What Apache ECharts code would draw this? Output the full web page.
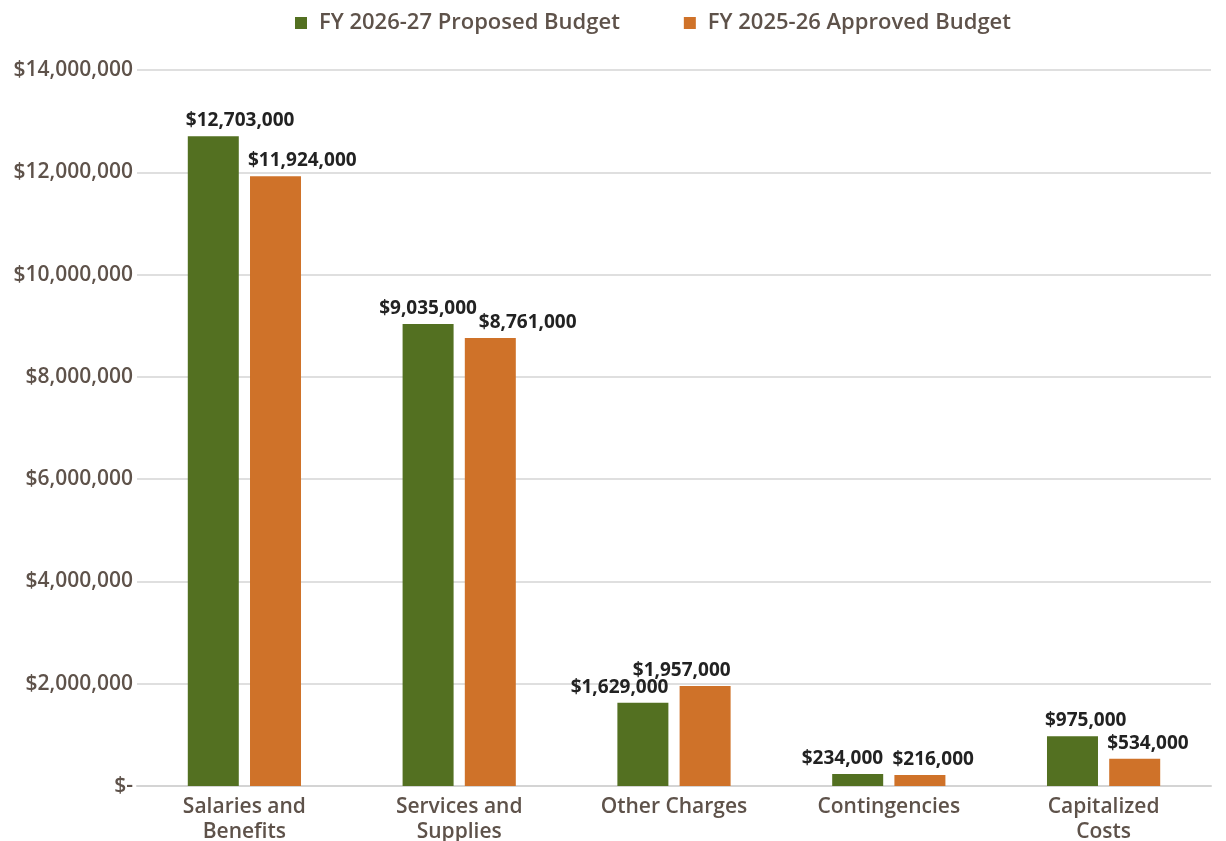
<!DOCTYPE html>
<html>
<head>
<meta charset="utf-8">
<script src="https://cdn.jsdelivr.net/npm/echarts@6/dist/echarts.min.js"></script>
<style>
  html, body { margin: 0; padding: 0; background: #ffffff; overflow: hidden; }
  #chart { width: 1226px; height: 841px; }
</style>
</head>
<body>
<div id="chart"></div>
<script>
// Budget categories and amounts (USD)
const categories = ['Salaries and\nBenefits', 'Services and\nSupplies', 'Other Charges', 'Contingencies', 'Capitalized\nCosts'];
const proposed2627 = [12703000, 9035000, 1629000, 234000, 975000];
const approved2526 = [11924000, 8761000, 1957000, 216000, 534000];
const seriesNames = ['FY 2026-27 Proposed Budget', 'FY 2025-26 Approved Budget'];

// How each value label sits on its bar (edge it hugs + sideways nudge in px),
// so labels of neighbouring bars don't collide
const labelPlacement = {
  proposed: [['left', 0], ['center', 0], ['right', 0], ['right', 0], ['left', 0]],
  approved: [['left', 0], ['left', 16], ['right', 0], ['left', 0], ['left', 0]]
};

const FONT = '"Open Sans", "Noto Sans", sans-serif';
const AXIS_TEXT = '#5e524a';

function money(v) {
  if (v === 0) return '$-';
  return '$' + v.toLocaleString('en-US');
}

function barLabel([edge, nudge]) {
  const pos = {
    left: [-2 + nudge, -6],
    center: ['50%', -6],
    right: ['100%', -6]
  }[edge];
  return {
    show: true,
    position: pos,
    offset: edge === 'left' ? [0, 0] : [nudge, 0],
    align: edge,
    verticalAlign: 'bottom',
    color: '#222222',
    fontFamily: FONT,
    fontWeight: 700,
    fontSize: 19,
    formatter: p => money(p.value)
  };
}

function seriesData(values, placement) {
  return values.map((v, i) => ({ value: v, label: barLabel(placement[i]) }));
}

const chart = echarts.init(document.getElementById('chart'), null, { renderer: 'canvas' });

chart.setOption({
  animation: false,
  color: ['#537021', '#cf7229'],
  legend: {
    top: 7,
    left: 290,
    itemWidth: 12,
    itemHeight: 12,
    itemGap: 64,
    icon: 'rect',
    textStyle: { color: AXIS_TEXT, fontFamily: FONT, fontWeight: 600, fontSize: 22, padding: [0, 0, 0, 7] },
    data: seriesNames
  },
  grid: { left: 137, right: 15, top: 70, bottom: 55, outerBoundsMode: 'none', containLabel: false },
  xAxis: {
    type: 'category',
    data: categories,
    axisLine: { show: true, lineStyle: { color: '#d4d4d4', width: 2 } },
    axisTick: { show: false },
    axisLabel: {
      color: AXIS_TEXT, fontFamily: FONT, fontWeight: 600, fontSize: 21,
      lineHeight: 25, margin: 9, interval: 0
    }
  },
  yAxis: {
    type: 'value',
    min: 0,
    max: 14000000,
    interval: 2000000,
    axisLine: { show: false },
    axisTick: { show: false },
    splitLine: { lineStyle: { color: '#d4d4d4', width: 1.5 } },
    axisLabel: {
      color: AXIS_TEXT, fontFamily: FONT, fontWeight: 600, fontSize: 21,
      margin: 4, formatter: v => money(v)
    }
  },
  series: [
    { name: seriesNames[0], type: 'bar', data: seriesData(proposed2627, labelPlacement.proposed), barWidth: 51, barGap: '22%' },
    { name: seriesNames[1], type: 'bar', data: seriesData(approved2526, labelPlacement.approved), barWidth: 51, barGap: '22%' }
  ]
});
</script>
</body>
</html>
